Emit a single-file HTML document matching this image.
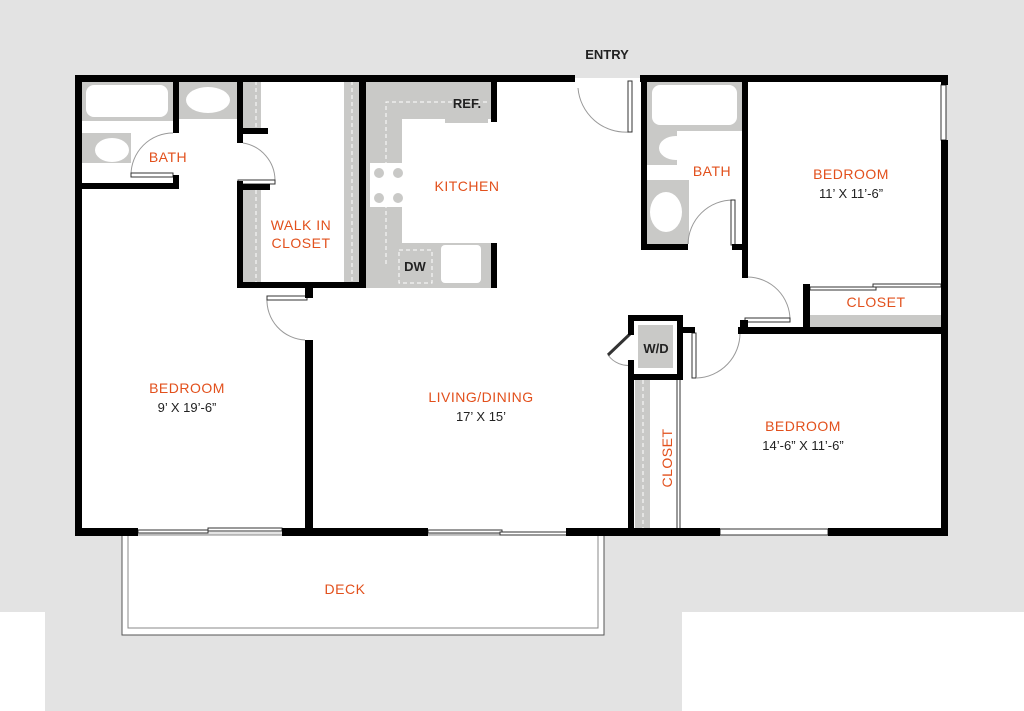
<!DOCTYPE html>
<html><head><style>
html,body{margin:0;padding:0;background:#e3e3e3;}
svg{display:block}
.o{font-family:"Liberation Sans",sans-serif;font-size:14px;fill:#e2501c;letter-spacing:0.5px}
.d{font-family:"Liberation Sans",sans-serif;font-size:13px;fill:#222}
.k{font-family:"Liberation Sans",sans-serif;font-size:13px;fill:#222;font-weight:bold}
</style></head><body>
<svg width="1024" height="711" viewBox="0 0 1024 711" xmlns="http://www.w3.org/2000/svg">
<rect width="1024" height="711" fill="#e3e3e3"/>
<rect x="0" y="612" width="45" height="99" fill="#fff"/>
<rect x="682" y="612" width="342" height="99" fill="#fff"/>
<!-- interior -->
<rect x="78" y="78" width="866" height="454" fill="#fff"/>
<!-- deck -->
<rect x="122" y="535" width="482" height="100" fill="#fff" stroke="#555" stroke-width="1"/>
<rect x="128" y="535" width="470" height="93" fill="none" stroke="#888" stroke-width="1"/>
<!-- grey fixtures -->
<g fill="#c9c9c7">
<rect x="81" y="81" width="92" height="40"/>
<rect x="179" y="81" width="58" height="38"/>
<rect x="81" y="133" width="50" height="30"/>
<rect x="243" y="81" width="18" height="47"/>
<rect x="243" y="190" width="18" height="92"/>
<rect x="344" y="81" width="15" height="201"/>
<rect x="366" y="81" width="36" height="207"/>
<rect x="366" y="81" width="125" height="38"/>
<rect x="445" y="81" width="43" height="42"/>
<rect x="366" y="243" width="125" height="45"/>
<rect x="647" y="81" width="95" height="50"/>
<rect x="647" y="131" width="30" height="34"/>
<rect x="647" y="180" width="42" height="64"/>
<rect x="810" y="315" width="131" height="13"/>
<rect x="638" y="325" width="35" height="43"/>
<rect x="635" y="380" width="15" height="148"/>
</g>
<g fill="#fff">
<rect x="86" y="85" width="82" height="32" rx="8"/>
<ellipse cx="208" cy="100" rx="22" ry="13"/>
<ellipse cx="112" cy="150" rx="17" ry="12"/>
<rect x="370" y="163" width="37" height="44"/>
<rect x="441" y="245" width="40" height="38" rx="4"/>
<rect x="652" y="85" width="85" height="40" rx="8"/>
<ellipse cx="676" cy="148" rx="17" ry="12"/>
<ellipse cx="666" cy="212" rx="16" ry="20"/>
</g>
<g fill="#c9c9c7"><circle cx="379" cy="173" r="5"/><circle cx="398" cy="173" r="5"/><circle cx="379" cy="198" r="5"/><circle cx="398" cy="198" r="5"/></g>
<!-- dashed -->
<g fill="none" stroke="#fff" stroke-width="1" stroke-dasharray="4,3">
<path d="M386 264 V102 H488"/>
<rect x="399" y="250" width="33" height="33"/>
<path d="M256 81 V128 M256 190 V282 M352 81 V282 M643 380 V528"/>
</g>
<!-- door arcs -->
<g fill="none" stroke="#999" stroke-width="1">
<path d="M131 175 A42 42 0 0 1 173 133"/>
<path d="M243 143 A38 38 0 0 1 275 180"/>
<path d="M305 340 A40 40 0 0 1 267 298"/>
<path d="M578 88 A48 48 0 0 0 629 132"/>
<path d="M688 244 A45 45 0 0 1 733 200"/>
<path d="M748 277 A43 43 0 0 1 790 320"/>
<path d="M697 378 A45 45 0 0 0 740 333"/>
<path d="M608 355 A25 25 0 0 0 633 365"/>
</g>
<!-- door panels -->
<g fill="#fff" stroke="#333" stroke-width="1">
<rect x="131" y="173" width="42" height="4"/>
<rect x="238" y="180" width="37" height="4"/>
<rect x="267" y="296" width="40" height="4"/>
<rect x="628" y="81" width="4" height="51"/>
<rect x="731" y="200" width="4" height="45"/>
<rect x="745" y="318" width="45" height="4"/>
<rect x="692" y="333" width="4" height="45"/>
<rect x="810" y="287" width="66" height="3"/>
<rect x="873" y="284" width="68" height="3"/>
<rect x="941" y="85" width="5" height="55"/>
<rect x="138" y="530" width="70" height="3"/>
<rect x="208" y="528" width="74" height="3"/>
<rect x="428" y="530" width="74" height="3"/>
<rect x="500" y="532" width="67" height="3"/>
<rect x="720" y="529" width="108" height="6"/>
<line x1="677" y1="380" x2="677" y2="528"/><line x1="680" y1="380" x2="680" y2="528"/>
</g>
<line x1="608" y1="355" x2="630" y2="334" stroke="#333" stroke-width="3"/>
<!-- walls -->
<g fill="#000">
<rect x="75" y="75" width="500" height="7"/>
<rect x="640" y="75" width="308" height="7"/>
<rect x="75" y="75" width="7" height="461"/>
<rect x="941" y="140" width="7" height="396"/>
<rect x="941" y="75" width="7" height="10"/>
<rect x="75" y="528" width="63" height="8"/>
<rect x="282" y="528" width="146" height="8"/>
<rect x="566" y="528" width="154" height="8"/>
<rect x="828" y="528" width="120" height="8"/>
<rect x="173" y="81" width="6" height="52"/>
<rect x="75" y="183" width="104" height="6"/>
<rect x="173" y="175" width="6" height="14"/>
<rect x="237" y="81" width="6" height="62"/>
<rect x="237" y="128" width="31" height="6"/>
<rect x="237" y="181" width="6" height="107"/>
<rect x="237" y="184" width="33" height="6"/>
<rect x="237" y="282" width="129" height="6"/>
<rect x="359" y="81" width="7" height="207"/>
<rect x="305" y="282" width="8" height="16"/>
<rect x="305" y="340" width="8" height="196"/>
<rect x="491" y="81" width="6" height="41"/>
<rect x="491" y="243" width="6" height="45"/>
<rect x="641" y="75" width="6" height="175"/>
<rect x="641" y="244" width="47" height="6"/>
<rect x="742" y="75" width="6" height="203"/>
<rect x="732" y="244" width="16" height="6"/>
<rect x="803" y="284" width="7" height="46"/>
<rect x="738" y="327" width="210" height="7"/>
<rect x="740" y="320" width="8" height="14"/>
<rect x="628" y="315" width="55" height="6"/>
<rect x="628" y="315" width="6" height="20"/>
<rect x="628" y="360" width="6" height="176"/>
<rect x="677" y="315" width="6" height="65"/>
<rect x="628" y="374" width="55" height="6"/>
<rect x="683" y="327" width="12" height="6"/>
</g>
<!-- labels -->
<text x="607" y="59" class="k" text-anchor="middle" font-weight="bold">ENTRY</text>
<text x="168" y="162" class="o" text-anchor="middle">BATH</text>
<text x="301" y="230" class="o" text-anchor="middle">WALK IN</text>
<text x="301" y="248" class="o" text-anchor="middle">CLOSET</text>
<text x="467" y="191" class="o" text-anchor="middle">KITCHEN</text>
<text x="467" y="108" class="k" text-anchor="middle">REF.</text>
<text x="415" y="271" class="k" text-anchor="middle">DW</text>
<text x="712" y="176" class="o" text-anchor="middle">BATH</text>
<text x="851" y="179" class="o" text-anchor="middle">BEDROOM</text>
<text x="851" y="198" class="d" text-anchor="middle">11’ X 11’-6”</text>
<text x="876" y="307" class="o" text-anchor="middle">CLOSET</text>
<text x="656" y="353" class="k" text-anchor="middle">W/D</text>
<text x="187" y="393" class="o" text-anchor="middle">BEDROOM</text>
<text x="187" y="412" class="d" text-anchor="middle">9’ X 19’-6”</text>
<text x="481" y="402" class="o" text-anchor="middle">LIVING/DINING</text>
<text x="481" y="421" class="d" text-anchor="middle">17’ X 15’</text>
<text x="803" y="431" class="o" text-anchor="middle">BEDROOM</text>
<text x="803" y="450" class="d" text-anchor="middle">14’-6” X 11’-6”</text>
<text x="0" y="0" class="o" text-anchor="middle" transform="translate(672,458) rotate(-90)">CLOSET</text>
<text x="345" y="594" class="o" text-anchor="middle">DECK</text>
</svg>
</body></html>
